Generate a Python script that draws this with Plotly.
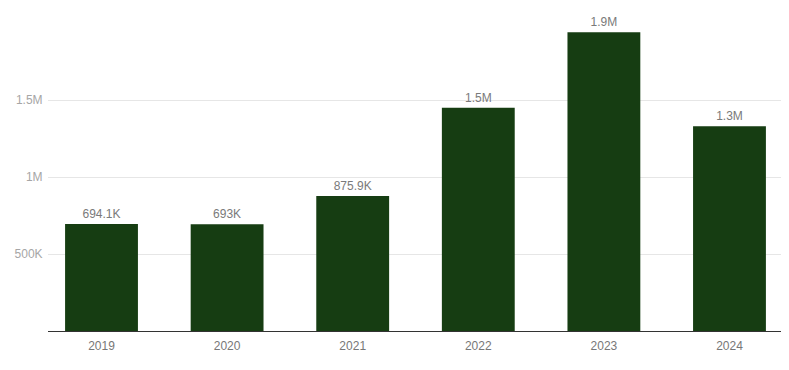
import plotly.graph_objects as go

years = ["2019", "2020", "2021", "2022", "2023", "2024"]
values = [694100, 693000, 875900, 1450000, 1940000, 1330000]
labels = ["694.1K", "693K", "875.9K", "1.5M", "1.9M", "1.3M"]
ytick_vals = [500000, 1000000, 1500000]
ytick_text = ["500K", "1M", "1.5M"]

fig = go.Figure(go.Bar(
    x=list(range(len(years))), y=values,
    text=labels, textposition="outside",
    textfont=dict(color="#7a7a7a", size=12, family="Liberation Sans, Arial"),
    marker=dict(color="#163d12", line=dict(width=0)),
    width=0.58, cliponaxis=False,
))
fig.update_layout(
    width=789, height=370,
    margin=dict(l=40, r=12, t=12, b=47),
    plot_bgcolor="white", paper_bgcolor="white",
    showlegend=False,
    font=dict(family="Liberation Sans, Arial", size=12, color="#666666"),
    xaxis=dict(
        range=[-0.426, 5.442], tickmode="array",
        tickvals=list(range(len(years))), ticktext=years,
        showgrid=False, showline=True, linecolor="#333333", linewidth=1,
        ticks="outside", ticklen=4, tickcolor="rgba(0,0,0,0)",
        tickfont=dict(color="#777777", size=12), zeroline=False,
        automargin=False,
    ),
    yaxis=dict(
        range=[0, 2019500], tickmode="array",
        tickvals=ytick_vals, ticktext=ytick_text,
        showgrid=True, gridcolor="#e6e6e6", gridwidth=1,
        zeroline=False, showline=False,
        ticks="outside", ticklen=2, tickcolor="rgba(0,0,0,0)",
        tickfont=dict(color="#a6a6a6", size=12),
        automargin=False,
    ),
)
fig.write_html("out.html")
